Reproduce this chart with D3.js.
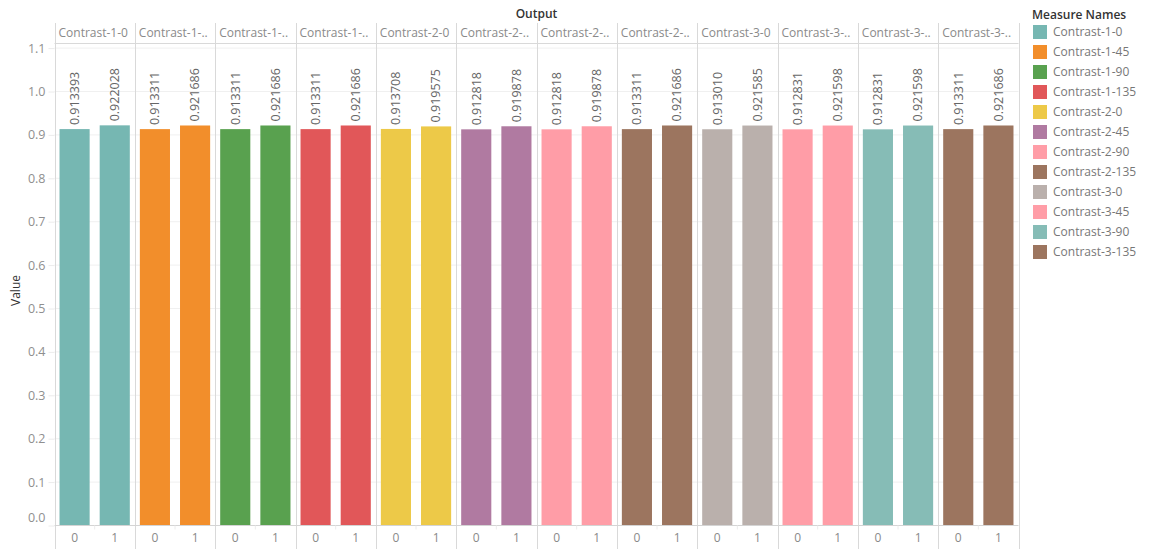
<!DOCTYPE html>
<html>
<head>
<meta charset="utf-8">
<script src="https://cdn.jsdelivr.net/npm/d3@7"></script>
<style>
  html, body { margin: 0; padding: 0; background: #fff; }
  svg { display: block; font-family: "Open Sans", "Noto Sans", sans-serif; }
</style>
</head>
<body>
<svg id="chart" width="1149" height="549"></svg>
<script>
// Measure names (one column pane each) and their colours
const measures = [
  "Contrast-1-0", "Contrast-1-45", "Contrast-1-90", "Contrast-1-135",
  "Contrast-2-0", "Contrast-2-45", "Contrast-2-90", "Contrast-2-135",
  "Contrast-3-0", "Contrast-3-45", "Contrast-3-90", "Contrast-3-135"
];
const colors = [
  "#76b7b2", "#f28e2b", "#59a14f", "#e15759",
  "#edc948", "#b07aa1", "#ff9da7", "#9c755f",
  "#bab0ac", "#ff9da7", "#86bcb6", "#9c755f"
];
// Output classes inside each pane
const outputs = ["0", "1"];
// Values for output 0 and output 1, per measure
const valuesOutput0 = [
  0.913393, 0.913311, 0.913311, 0.913311,
  0.913708, 0.912818, 0.912818, 0.913311,
  0.913010, 0.912831, 0.912831, 0.913311
];
const valuesOutput1 = [
  0.922028, 0.921686, 0.921686, 0.921686,
  0.919575, 0.919878, 0.919878, 0.921686,
  0.921585, 0.921598, 0.921598, 0.921686
];
const yTicks = [0.0, 0.1, 0.2, 0.3, 0.4, 0.5, 0.6, 0.7, 0.8, 0.9, 1.0, 1.1];

const svg = d3.select("#chart");
const left = 54.5, right = 1018.5;
const headerTop = 23, headerBottom = 43.5;
const zeroY = 525.5, bottom = 549;

const x = d3.scaleBand().domain(measures).range([left, right]);
const pw = x.bandwidth();
const xInner = d3.scaleBand().domain(outputs).range([0, pw]).paddingInner(0.25).paddingOuter(0.125);
const y = d3.scaleLinear().domain([0, 1]).range([zeroY, 91.5]);
const color = d3.scaleOrdinal().domain(measures).range(colors);

const rows = measures.map((m, i) => ({
  measure: m,
  values: [
    { out: "0", v: valuesOutput0[i] },
    { out: "1", v: valuesOutput1[i] }
  ]
}));

// Horizontal gridlines
svg.append("g").selectAll("line").data(yTicks.filter(t => t > 0)).join("line")
  .attr("x1", left).attr("x2", right)
  .attr("y1", d => y(d)).attr("y2", d => y(d))
  .attr("stroke", "#f0f0f0").attr("stroke-width", 1);

// Pane separators and frame
const seps = measures.map(m => x(m)).concat([right]);
svg.append("g").selectAll("line").data(seps).join("line")
  .attr("x1", d => Math.round(d) + 0.5).attr("x2", d => Math.round(d) + 0.5)
  .attr("y1", headerTop).attr("y2", bottom)
  .attr("stroke", "#d9d9d9");
svg.append("line").attr("x1", left).attr("x2", right)
  .attr("y1", headerBottom).attr("y2", headerBottom).attr("stroke", "#d9d9d9");

// Bars and labels per pane
const panes = svg.append("g").selectAll("g").data(rows).join("g")
  .attr("transform", d => `translate(${x(d.measure)},0)`);

panes.selectAll("rect").data(d => d.values.map(v => ({ ...v, measure: d.measure }))).join("rect")
  .attr("x", d => xInner(d.out))
  .attr("width", xInner.bandwidth())
  .attr("y", d => y(d.v))
  .attr("height", d => y(0) - y(d.v))
  .attr("fill", d => color(d.measure));

panes.selectAll("text.val").data(d => d.values).join("text")
  .attr("class", "val")
  .attr("transform", d => `translate(${xInner(d.out) + xInner.bandwidth() / 2},${y(d.v) - 4}) rotate(-90)`)
  .attr("dy", "0.35em")
  .attr("font-size", 12.5).attr("fill", "#666")
  .text(d => d.v.toFixed(6));

// Header labels, truncated to fit the pane
const headers = svg.append("g").selectAll("text").data(measures).join("text")
  .attr("x", d => x(d) + 4)
  .attr("y", (headerTop + headerBottom) / 2)
  .attr("dy", "0.35em")
  .attr("font-size", 12).attr("fill", "#8a8a8a")
  .text(d => d);
headers.each(function (d) {
  const el = d3.select(this);
  const avail = pw - 7;
  if (this.getComputedTextLength() <= avail) return;
  let s = d;
  while (s.length > 1) {
    s = s.slice(0, -1);
    el.text(s + "..");
    if (this.getComputedTextLength() <= avail) break;
  }
});

// Zero baseline
svg.append("line").attr("x1", left).attr("x2", right)
  .attr("y1", zeroY).attr("y2", zeroY).attr("stroke", "#d4d4d4");

// Small dividers between output 0 and 1 on the bottom axis
svg.append("g").selectAll("line").data(measures).join("line")
  .attr("x1", d => x(d) + pw / 2).attr("x2", d => x(d) + pw / 2)
  .attr("y1", zeroY).attr("y2", zeroY + 4)
  .attr("stroke", "#ececec");

// Bottom axis labels (output classes)
panes.selectAll("text.out").data(outputs).join("text")
  .attr("class", "out")
  .attr("x", d => xInner(d) + xInner.bandwidth() / 2)
  .attr("y", 538).attr("dy", "0.35em")
  .attr("text-anchor", "middle")
  .attr("font-size", 12).attr("fill", "#8a8a8a")
  .text(d => d);

// Y axis
const yAxis = d3.axisLeft(y).tickValues(yTicks).tickSize(6).tickPadding(3)
  .tickFormat(d3.format(".1f"));
const ya = svg.append("g").attr("transform", `translate(${left},0)`).call(yAxis);
ya.select(".domain").remove();
ya.selectAll(".tick line").attr("stroke", "#ececec");
ya.selectAll(".tick text").attr("font-size", 12.5).attr("fill", "#8f8f8f")
  .attr("font-family", "\"Open Sans\", sans-serif");
ya.selectAll(".tick").filter(d => d === 0).select("text").attr("dy", "-0.35em");

svg.append("text")
  .attr("transform", `translate(16,${(headerBottom + zeroY) / 2 + 6}) rotate(-90)`)
  .attr("text-anchor", "middle").attr("dy", "0.35em")
  .attr("font-size", 12).attr("fill", "#333")
  .text("Value");

// Column title
svg.append("text")
  .attr("x", (left + right) / 2).attr("y", 14).attr("dy", "0.35em")
  .attr("text-anchor", "middle")
  .attr("font-size", 12).attr("font-weight", 600).attr("fill", "#333")
  .text("Output");

// Legend
const legend = svg.append("g").attr("transform", "translate(1032,0)");
legend.append("text").attr("x", 0).attr("y", 15).attr("dy", "0.35em")
  .attr("font-size", 12).attr("font-weight", 600).attr("fill", "#333")
  .text("Measure Names");
const items = legend.selectAll("g.item").data(measures).join("g")
  .attr("class", "item")
  .attr("transform", (d, i) => `translate(0,${32 + i * 20})`);
items.append("rect").attr("x", 1).attr("y", -7).attr("width", 14).attr("height", 14)
  .attr("fill", d => color(d));
items.append("text").attr("x", 21).attr("y", 0).attr("dy", "0.35em")
  .attr("font-size", 12).attr("fill", "#777")
  .text(d => d);
</script>
</body>
</html>
